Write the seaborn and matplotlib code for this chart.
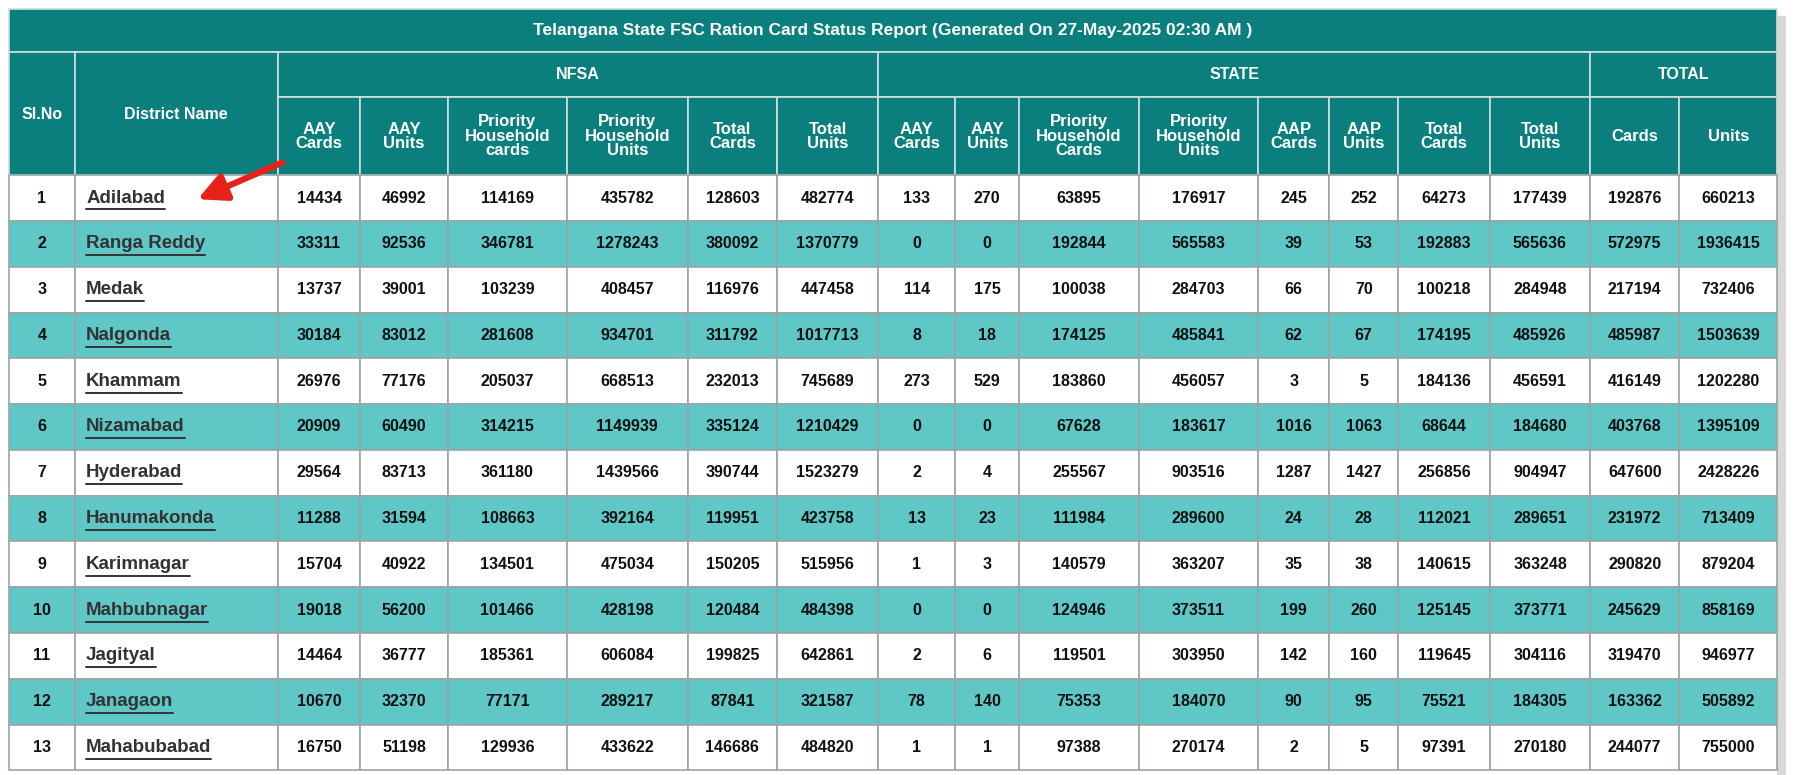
import matplotlib
matplotlib.use("Agg")
import matplotlib.pyplot as plt
from matplotlib.patches import Rectangle
import seaborn as sns

sns.set_theme(style="white", font="Liberation Sans")

# %% Data
title = "Telangana State FSC Ration Card Status Report (Generated On 27-May-2025 02:30 AM )"
districts = ["Adilabad", "Ranga Reddy", "Medak", "Nalgonda", "Khammam", "Nizamabad", "Hyderabad",
             "Hanumakonda", "Karimnagar", "Mahbubnagar", "Jagityal", "Janagaon", "Mahabubabad"]
nfsa_aay_cards = [14434, 33311, 13737, 30184, 26976, 20909, 29564, 11288, 15704, 19018, 14464, 10670, 16750]
nfsa_aay_units = [46992, 92536, 39001, 83012, 77176, 60490, 83713, 31594, 40922, 56200, 36777, 32370, 51198]
nfsa_ph_cards = [114169, 346781, 103239, 281608, 205037, 314215, 361180, 108663, 134501, 101466, 185361, 77171, 129936]
nfsa_ph_units = [435782, 1278243, 408457, 934701, 668513, 1149939, 1439566, 392164, 475034, 428198, 606084, 289217, 433622]
nfsa_tot_cards = [128603, 380092, 116976, 311792, 232013, 335124, 390744, 119951, 150205, 120484, 199825, 87841, 146686]
nfsa_tot_units = [482774, 1370779, 447458, 1017713, 745689, 1210429, 1523279, 423758, 515956, 484398, 642861, 321587, 484820]
st_aay_cards = [133, 0, 114, 8, 273, 0, 2, 13, 1, 0, 2, 78, 1]
st_aay_units = [270, 0, 175, 18, 529, 0, 4, 23, 3, 0, 6, 140, 1]
st_ph_cards = [63895, 192844, 100038, 174125, 183860, 67628, 255567, 111984, 140579, 124946, 119501, 75353, 97388]
st_ph_units = [176917, 565583, 284703, 485841, 456057, 183617, 903516, 289600, 363207, 373511, 303950, 184070, 270174]
st_aap_cards = [245, 39, 66, 62, 3, 1016, 1287, 24, 35, 199, 142, 90, 2]
st_aap_units = [252, 53, 70, 67, 5, 1063, 1427, 28, 38, 260, 160, 95, 5]
st_tot_cards = [64273, 192883, 100218, 174195, 184136, 68644, 256856, 112021, 140615, 125145, 119645, 75521, 97391]
st_tot_units = [177439, 565636, 284948, 485926, 456591, 184680, 904947, 289651, 363248, 373771, 304116, 184305, 270180]
total_cards = [192876, 572975, 217194, 485987, 416149, 403768, 647600, 231972, 290820, 245629, 319470, 163362, 244077]
total_units = [660213, 1936415, 732406, 1503639, 1202280, 1395109, 2428226, 713409, 879204, 858169, 946977, 505892, 755000]

sub_headers = ["AAY\nCards", "AAY\nUnits", "Priority\nHousehold\ncards", "Priority\nHousehold\nUnits",
               "Total\nCards", "Total\nUnits",
               "AAY\nCards", "AAY\nUnits", "Priority\nHousehold\nCards", "Priority\nHousehold\nUnits",
               "AAP\nCards", "AAP\nUnits", "Total\nCards", "Total\nUnits", "Cards", "Units"]
groups = [("NFSA", 2, 8), ("STATE", 8, 16), ("TOTAL", 16, 18)]

columns = [nfsa_aay_cards, nfsa_aay_units, nfsa_ph_cards, nfsa_ph_units, nfsa_tot_cards, nfsa_tot_units,
           st_aay_cards, st_aay_units, st_ph_cards, st_ph_units, st_aap_cards, st_aap_units,
           st_tot_cards, st_tot_units, total_cards, total_units]

# %% Layout (reference pixel space 1568 x 677)
xs = [8, 65, 242, 314, 390, 494, 599, 677, 765, 832, 888, 992, 1096, 1158, 1218, 1298, 1385, 1463, 1548]
y_title, y_h1, y_h2, y_body = 8, 45, 85, 153
row_h = 40
HEAD = "#0b7f7e"
STRIPE = "#5fc8c7"
EDGE = "#9aa5a5"

fig = plt.figure(figsize=(18, 7.75), dpi=100)
ax = fig.add_axes([0, 0, 1, 1])
ax.set_xlim(0, 1568)
ax.set_ylim(677, 0)
ax.axis("off")


def cell(x0, x1, y0, y1, color, edge="#d0dede"):
    ax.add_patch(Rectangle((x0, y0), x1 - x0, y1 - y0, facecolor=color, edgecolor=edge, lw=1.2))


# shadow at right
ax.add_patch(Rectangle((1548, 14), 8, 670, facecolor="#d8d8d8", edgecolor="none"))

# title
cell(xs[0], xs[-1], y_title, y_h1, HEAD)
ax.text((xs[0] + xs[-1]) / 2, (y_title + y_h1) / 2, title, color="white", fontsize=12.5,
        fontweight="heavy", ha="center", va="center")

# header
cell(xs[0], xs[1], y_h1, y_body, HEAD)
ax.text((xs[0] + xs[1]) / 2, 100, "Sl.No", color="white", fontsize=11.5, fontweight="bold", ha="center", va="center")
cell(xs[1], xs[2], y_h1, y_body, HEAD)
ax.text((xs[1] + xs[2]) / 2, 100, "District Name", color="white", fontsize=11.5, fontweight="bold", ha="center", va="center")
for name, a, b in groups:
    cell(xs[a], xs[b], y_h1, y_h2, HEAD)
    ax.text((xs[a] + xs[b]) / 2, (y_h1 + y_h2) / 2, name, color="white", fontsize=11.5,
            fontweight="bold", ha="center", va="center")
for i, lab in enumerate(sub_headers):
    c = i + 2
    cell(xs[c], xs[c + 1], y_h2, y_body, HEAD)
    ax.text((xs[c] + xs[c + 1]) / 2, (y_h2 + y_body) / 2, lab, color="white", fontsize=12,
            fontweight="bold", ha="center", va="center", linespacing=0.95)

# body
fig.canvas.draw()
renderer = fig.canvas.get_renderer()
inv = ax.transData.inverted()
for r, dname in enumerate(districts):
    y0 = y_body + r * row_h
    y1 = y0 + row_h
    ym = (y0 + y1) / 2
    bg = "white" if r % 2 == 0 else STRIPE
    for c in range(len(xs) - 1):
        cell(xs[c], xs[c + 1], y0, y1, bg, EDGE)
    ax.text((xs[0] + xs[1]) / 2, ym, str(r + 1), fontsize=11.5, fontweight="bold", color="#111", ha="center", va="center")
    t = ax.text(xs[1] + 10, ym, dname, fontsize=13.5, fontweight="bold", color="#333", ha="left", va="center")
    bb = t.get_window_extent(renderer)
    xr = inv.transform((bb.x1, bb.y0))[0]
    ax.plot([xs[1] + 10, xr], [ym + 10, ym + 10], color="#333", lw=1.4)
    for i, col in enumerate(columns):
        c = i + 2
        ax.text((xs[c] + xs[c + 1]) / 2, ym, str(col[r]), fontsize=11.5, fontweight="bold",
                color="#111", ha="center", va="center")

# red arrow
ax.annotate("", xy=(170, 175), xytext=(248, 141),
            arrowprops=dict(arrowstyle="-|>,head_width=0.7,head_length=1.4", color="#e8211b", lw=4.5))

fig.savefig("out.png", dpi=100)
